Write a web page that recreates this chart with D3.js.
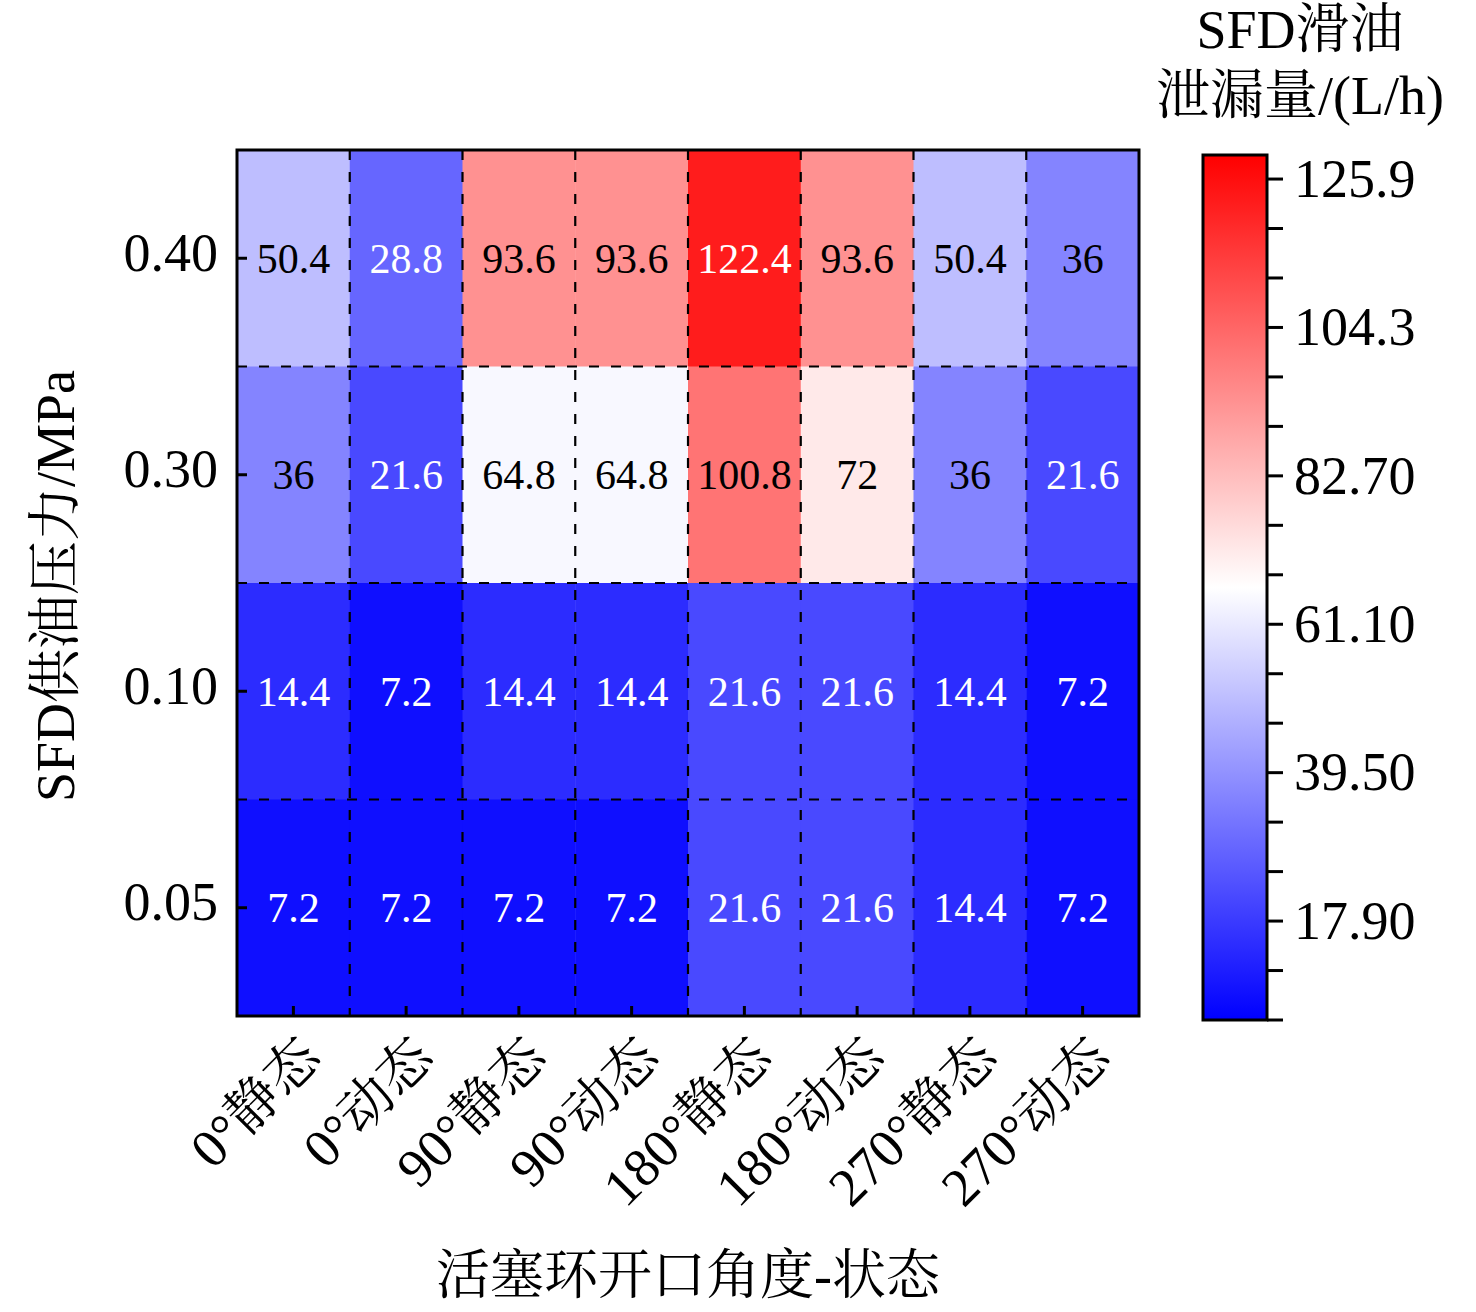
<!DOCTYPE html>
<html>
<head>
<meta charset="utf-8">
<script src="https://cdn.jsdelivr.net/npm/d3@7"></script>
<style>
  body { margin: 0; background: #ffffff; }
  svg { display: block; }
</style>
</head>
<body>
<svg id="chart" width="1476" height="1312"></svg>
<script>
// Heatmap: SFD oil leakage vs. piston ring gap angle / state and supply pressure.

const angles = ["0°静态", "0°动态", "90°静态", "90°动态", "180°静态", "180°动态", "270°静态", "270°动态"];
const pressures = ["0.40", "0.30", "0.10", "0.05"];

const leak040 = [50.4, 28.8, 93.6, 93.6, 122.4, 93.6, 50.4, 36];
const leak030 = [36, 21.6, 64.8, 64.8, 100.8, 72, 36, 21.6];
const leak010 = [14.4, 7.2, 14.4, 14.4, 21.6, 21.6, 14.4, 7.2];
const leak005 = [7.2, 7.2, 7.2, 7.2, 21.6, 21.6, 14.4, 7.2];

const cbTickValues = [17.9, 39.5, 61.1, 82.7, 104.3, 125.9];
const cbTickLabels = ["17.90", "39.50", "61.10", "82.70", "104.3", "125.9"];
const cbDomain = [3.5, 129.4];

const FONT = "'Liberation Serif', 'Times New Roman', 'Noto Serif CJK SC', 'Noto Sans CJK SC', serif";
const AXIS_FS = 54;

function drawHeatmap() {
  const svg = d3.select("#chart");

  const rows = [leak040, leak030, leak010, leak005];
  const cells = [];
  rows.forEach((r, i) => r.forEach((v, j) => cells.push({ p: pressures[i], a: angles[j], v })));

  const plot = { left: 237, right: 1139, top: 150, bottom: 1016 };

  const x = d3.scaleBand().domain(angles).range([plot.left, plot.right]);
  const y = d3.scaleBand().domain(pressures).range([plot.top, plot.bottom]);

  const mid = (cbDomain[0] + cbDomain[1]) / 2;
  const color = d3.scaleLinear()
    .domain([cbDomain[0], mid, cbDomain[1]])
    .range(["#0000ff", "#ffffff", "#ff0000"]);

  // cells
  svg.append("g")
    .selectAll("rect")
    .data(cells)
    .join("rect")
    .attr("x", d => x(d.a))
    .attr("y", d => y(d.p))
    .attr("width", x.bandwidth() + 0.5)
    .attr("height", y.bandwidth() + 0.5)
    .attr("fill", d => color(d.v));

  // dashed grid on cell borders
  const grid = svg.append("g")
    .attr("stroke", "#000")
    .attr("stroke-width", 2.2)
    .attr("stroke-dasharray", "10,12");

  grid.selectAll(".vgrid")
    .data(angles.slice(1))
    .join("line")
    .attr("x1", d => x(d))
    .attr("x2", d => x(d))
    .attr("y1", plot.top)
    .attr("y2", plot.bottom);

  grid.selectAll(".hgrid")
    .data(pressures.slice(1))
    .join("line")
    .attr("x1", plot.left)
    .attr("x2", plot.right)
    .attr("y1", d => y(d))
    .attr("y2", d => y(d));

  // value labels
  svg.append("g")
    .selectAll("text")
    .data(cells)
    .join("text")
    .attr("x", d => x(d.a) + x.bandwidth() / 2)
    .attr("y", d => y(d.p) + y.bandwidth() / 2)
    .attr("dy", "0.35em")
    .attr("text-anchor", "middle")
    .attr("font-family", FONT)
    .attr("font-size", 42)
    .attr("fill", d => {
      const c = d3.rgb(color(d.v));
      return Math.min(c.r, c.g, c.b) < 110 ? "#ffffff" : "#000000";
    })
    .text(d => d.v);

  // frame
  svg.append("rect")
    .attr("x", plot.left)
    .attr("y", plot.top)
    .attr("width", plot.right - plot.left)
    .attr("height", plot.bottom - plot.top)
    .attr("fill", "none")
    .attr("stroke", "#000")
    .attr("stroke-width", 3);

  // inward ticks
  svg.append("g")
    .selectAll("line")
    .data(pressures)
    .join("line")
    .attr("x1", plot.left)
    .attr("x2", plot.left + 10)
    .attr("y1", d => y(d) + y.bandwidth() / 2)
    .attr("y2", d => y(d) + y.bandwidth() / 2)
    .attr("stroke", "#000")
    .attr("stroke-width", 3);

  svg.append("g")
    .selectAll("line")
    .data(angles)
    .join("line")
    .attr("x1", d => x(d) + x.bandwidth() / 2)
    .attr("x2", d => x(d) + x.bandwidth() / 2)
    .attr("y1", plot.bottom)
    .attr("y2", plot.bottom - 10)
    .attr("stroke", "#000")
    .attr("stroke-width", 3);

  // y tick labels
  svg.append("g")
    .selectAll("text")
    .data(pressures)
    .join("text")
    .attr("x", 218)
    .attr("y", d => y(d) + y.bandwidth() / 2)
    .attr("dy", "0.23em")
    .attr("text-anchor", "end")
    .attr("font-family", FONT)
    .attr("font-size", AXIS_FS)
    .attr("fill", "#000")
    .text(d => d);

  // x tick labels, rotated
  svg.append("g")
    .selectAll("text")
    .data(angles)
    .join("text")
    .attr("transform", d => `translate(${x(d) + x.bandwidth() / 2 + 30}, 1060) rotate(-45)`)
    .attr("text-anchor", "end")
    .attr("font-family", FONT)
    .attr("font-size", AXIS_FS)
    .attr("fill", "#000")
    .text(d => d);

  // axis titles
  svg.append("text")
    .attr("x", 688)
    .attr("y", 1294)
    .attr("text-anchor", "middle")
    .attr("font-family", FONT)
    .attr("font-size", AXIS_FS)
    .attr("fill", "#000")
    .text("活塞环开口角度-状态");

  svg.append("text")
    .attr("transform", "translate(74, 586) rotate(-90)")
    .attr("text-anchor", "middle")
    .attr("font-family", FONT)
    .attr("font-size", AXIS_FS)
    .attr("fill", "#000")
    .text("SFD供油压力/MPa");

  // colour bar
  const cb = { x: 1203, w: 64, top: 155, bottom: 1020 };
  const cy = d3.scaleLinear().domain(cbDomain).range([cb.bottom, cb.top]);

  const grad = svg.append("defs").append("linearGradient")
    .attr("id", "cbGrad")
    .attr("x1", 0).attr("y1", 1).attr("x2", 0).attr("y2", 0);
  grad.selectAll("stop")
    .data(color.domain())
    .join("stop")
    .attr("offset", d => (d - cbDomain[0]) / (cbDomain[1] - cbDomain[0]))
    .attr("stop-color", d => color(d));

  svg.append("rect")
    .attr("x", cb.x)
    .attr("y", cb.top)
    .attr("width", cb.w)
    .attr("height", cb.bottom - cb.top)
    .attr("fill", "url(#cbGrad)")
    .attr("stroke", "#000")
    .attr("stroke-width", 3);

  const minorTicks = d3.range(cbDomain[0], 126.5, 7.2);
  svg.append("g")
    .selectAll("line")
    .data(minorTicks)
    .join("line")
    .attr("x1", cb.x + cb.w)
    .attr("x2", cb.x + cb.w + 16)
    .attr("y1", d => cy(d))
    .attr("y2", d => cy(d))
    .attr("stroke", "#000")
    .attr("stroke-width", 3);

  svg.append("g")
    .selectAll("text")
    .data(cbTickValues)
    .join("text")
    .attr("x", 1294)
    .attr("y", d => cy(d))
    .attr("dy", "0.33em")
    .attr("font-family", FONT)
    .attr("font-size", AXIS_FS)
    .attr("fill", "#000")
    .text((d, i) => cbTickLabels[i]);

  svg.append("text")
    .attr("x", 1300)
    .attr("y", 48)
    .attr("text-anchor", "middle")
    .attr("font-family", FONT)
    .attr("font-size", AXIS_FS)
    .attr("fill", "#000")
    .text("SFD滑油");

  svg.append("text")
    .attr("x", 1300)
    .attr("y", 114)
    .attr("text-anchor", "middle")
    .attr("font-family", FONT)
    .attr("font-size", AXIS_FS)
    .attr("fill", "#000")
    .text("泄漏量/(L/h)");
}

drawHeatmap();
</script>
</body>
</html>
